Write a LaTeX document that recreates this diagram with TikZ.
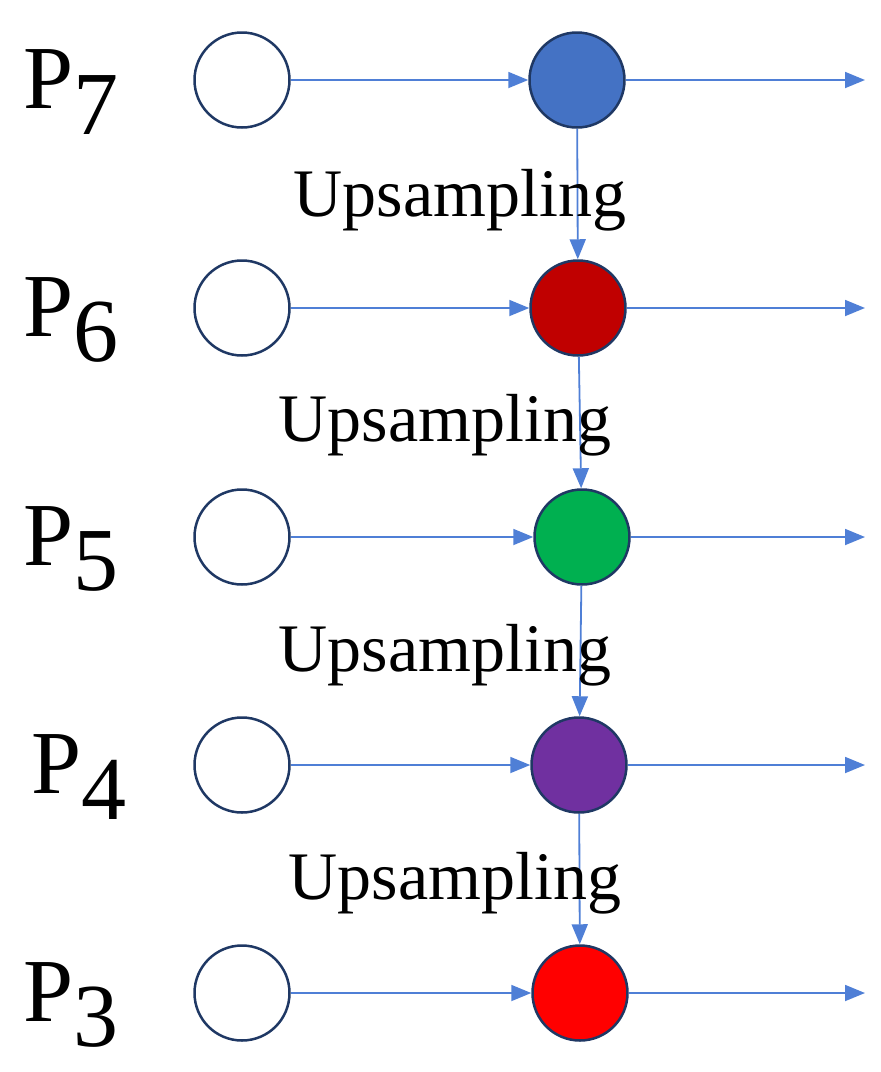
\documentclass[tikz,border=0pt]{standalone}
\usepackage{fontspec}
\setmainfont{Liberation Serif}
\usetikzlibrary{arrows.meta}
\definecolor{ln}{HTML}{4F7FD6}
\definecolor{ol}{HTML}{1F3864}
\definecolor{c7}{HTML}{4472C4}
\definecolor{c6}{HTML}{C00000}
\definecolor{c5}{HTML}{00B050}
\definecolor{c4}{HTML}{7030A0}
\definecolor{c3}{HTML}{FF0000}
\begin{document}
\begin{tikzpicture}[x=1pt,y=-1pt,
  cir/.style={circle,draw=ol,line width=2.5pt,minimum size=95pt,inner sep=0pt},
  arr/.style={draw=ln,line width=1.8pt,-{Triangle[length=20pt,width=16pt]}},
  lab/.style={font=\fontsize{90}{90}\selectfont,anchor=west},
  up/.style={font=\fontsize{68}{68}\selectfont}]
\useasboundingbox (0,0) rectangle (881,1072);
\foreach \n/\y/\cx/\c/\lx in {7/80/577/c7/20, 6/308/578/c6/20, 5/537/582/c5/20, 4/765/579/c4/28, 3/993/580/c3/20}{
  \node[lab] (p\n) at (\lx,\y+12) {P\raisebox{-0.28em}{\n}};
  \node[cir] (a\n) at (242,\y) {};
  \node[cir,fill=\c] (b\n) at (\cx,\y) {};
  \coordinate (e\n) at (865,\y);
  \draw[arr] (a\n) -- (b\n);
  \draw[arr] (b\n) -- (e\n);
}
\draw[arr] (b7) -- (b6);
\draw[arr] (b6) -- (b5);
\draw[arr] (b5) -- (b4);
\draw[arr] (b4) -- (b3);
\node[up] (u1) at (460,200) {Upsampling};
\node[up] (u2) at (445,425) {Upsampling};
\node[up] (u3) at (445,655) {Upsampling};
\node[up] (u4) at (455,883) {Upsampling};
\end{tikzpicture}
\end{document}
